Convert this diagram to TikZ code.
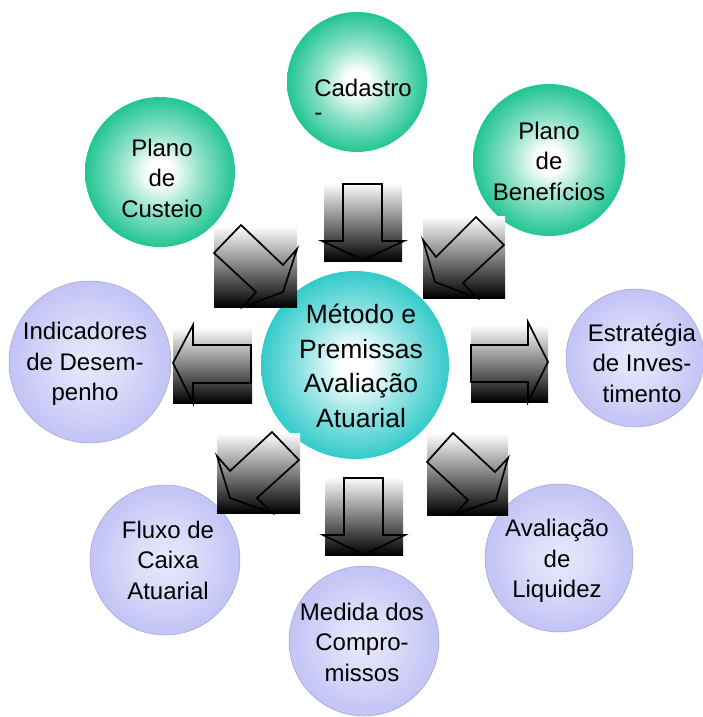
\documentclass[tikz,border=0pt]{standalone}
\usepackage{fontspec}
\setmainfont{Liberation Sans}
\usepackage{tikz}
\usetikzlibrary{positioning}

\definecolor{ballgreen}{RGB}{24,194,142}
\definecolor{ballteal}{RGB}{42,200,200}
\definecolor{balllilac}{RGB}{188,188,245}

\pgfdeclareradialshading{greenshade}{\pgfpoint{0bp}{0bp}}{color(0bp)=(white); color(4bp)=(white); color(14bp)=(ballgreen!50!white); color(26bp)=(ballgreen); color(35bp)=(ballgreen!90!black); color(100bp)=(ballgreen!90!black)}
\pgfdeclareradialshading{tealshade}{\pgfpoint{0bp}{0bp}}{color(0bp)=(white); color(4bp)=(white); color(14bp)=(ballteal!50!white); color(26bp)=(ballteal); color(35bp)=(ballteal!92!black); color(100bp)=(ballteal!92!black)}
\pgfdeclareradialshading{lilacshade}{\pgfpoint{0bp}{0bp}}{color(0bp)=(balllilac!35!white); color(9bp)=(balllilac!50!white); color(29bp)=(balllilac); color(35bp)=(balllilac!90!gray); color(100bp)=(balllilac!90!gray)}

\begin{document}
\begin{tikzpicture}[x=1pt,y=-1pt,
                    ball/.style={circle, inner sep=0pt, outer sep=0pt},
                    greenball/.style={ball, shading=greenshade},
                    tealball/.style={ball, shading=tealshade},
                    lilacball/.style={ball, shading=lilacshade, draw=balllilac!60!gray, line width=0.5pt},
                    gradbox/.style={top color=white, bottom color=black, draw=none},
                    blockarrow/.style={draw=black, line width=1.7pt, line join=miter},
                    balltext/.style={align=center, inner sep=0pt, font=\fontsize{24pt}{30.5pt}\selectfont},
                    maintext/.style={align=center, inner sep=0pt, font=\fontsize{26.5pt}{34.7pt}\selectfont},
                   ]

\useasboundingbox (0,0) rectangle (702,717);

% circles
\node[greenball, minimum size=140pt] (cadastro) at (357,82) {};
\node[greenball, minimum size=150pt] (custeio) at (160,172) {};
\node[greenball, minimum size=152pt] (beneficios) at (549,160) {};
\node[tealball, minimum size=188pt] (metodo) at (355,365) {};
\node[lilacball, minimum size=162pt] (indicadores) at (90,362) {};
\node[lilacball, minimum size=138pt] (estrategia) at (635,358) {};
\node[lilacball, minimum size=150pt] (fluxo) at (165,560) {};
\node[lilacball, minimum size=148pt] (liquidez) at (559,558) {};
\node[lilacball, minimum size=150pt] (medida) at (364,641) {};

% block arrows
\fill[gradbox] (324,183) rectangle (402,261);
\draw[blockarrow] (343,184) -- (382,184) -- (382,241) -- (404,241) -- (363,260) -- (322,241) -- (343,241) -- cycle;

\fill[gradbox] (214,226) rectangle (297,307);
\draw[blockarrow] (241,225) -- (283,265) -- (297,249) -- (283,292) -- (243,307) -- (256,292) -- (214,253) -- cycle;

\fill[gradbox] (423,216) rectangle (505,298);
\draw[blockarrow] (476,217) -- (504,245) -- (463,283) -- (477,298) -- (435,282) -- (423,240) -- (436,257) -- cycle;

\fill[gradbox] (173,327) rectangle (252,403);
\draw[blockarrow] (173,363) -- (193,325) -- (193,345) -- (251,345) -- (251,383) -- (193,383) -- (193,403) -- cycle;

\fill[gradbox] (471,325) rectangle (548,402);
\draw[blockarrow] (471,345) -- (528,345) -- (528,322) -- (548,362) -- (528,402) -- (528,382) -- (471,382) -- cycle;

\fill[gradbox] (217,433) rectangle (300,513);
\draw[blockarrow] (272,432) -- (299,460) -- (257,498) -- (272,513) -- (230,498) -- (217,456) -- (230,471) -- cycle;

\fill[gradbox] (427,433) rectangle (508,515);
\draw[blockarrow] (453,433) -- (427,462) -- (468,500) -- (455,514) -- (496,500) -- (508,458) -- (495,472) -- cycle;

\fill[gradbox] (325,477) rectangle (403,555);
\draw[blockarrow] (344,478) -- (383,478) -- (383,535) -- (405,535) -- (364,555) -- (323,535) -- (344,535) -- cycle;

% texts
\node[balltext, align=left] (cadastro-txt) at (363,100) {Cadastro\\[-7pt]-};
\node[balltext] (custeio-txt) at (162,178) {Plano\\de\\Custeio};
\node[balltext] (beneficios-txt) at (549,161) {Plano\\de\\Benefícios};
\node[maintext] (metodo-txt) at (361,366) {Método e\\Premissas\\Avaliação\\Atuarial};
\node[balltext] (indicadores-txt) at (85,364) {Indicadores\\de Desem-\\penho};
\node[balltext] (estrategia-txt) at (642,363) {Estratégia\\de Inves-\\timento};
\node[balltext] (fluxo-txt) at (168,560) {Fluxo de\\Caixa\\Atuarial};
\node[balltext] (liquidez-txt) at (557,561) {Avaliação\\de\\Liquidez};
\node[balltext] (medida-txt) at (362,642) {Medida dos\\Compro-\\missos};

\end{tikzpicture}
\end{document}
